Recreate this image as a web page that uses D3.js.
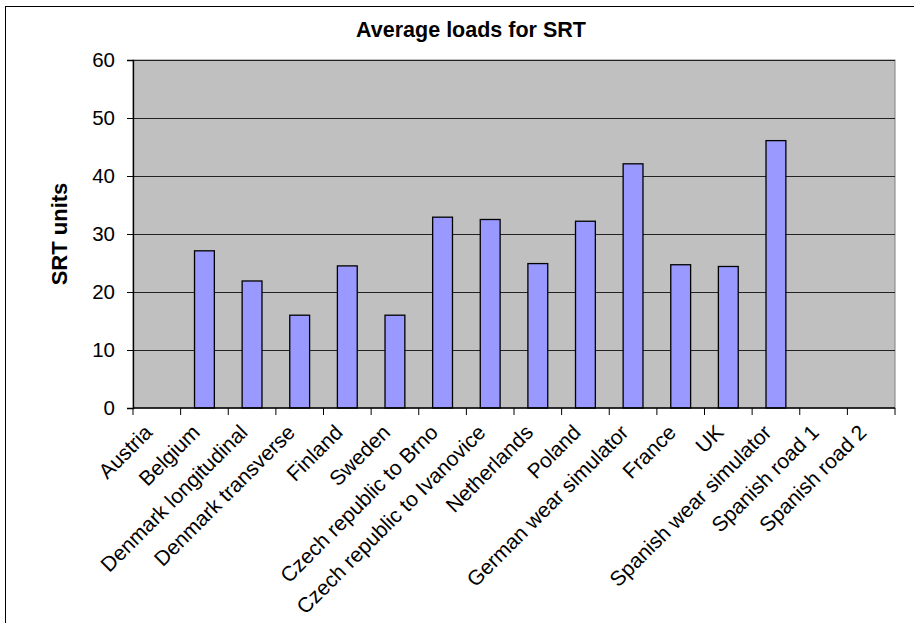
<!DOCTYPE html>
<html>
<head>
<meta charset="utf-8">
<script src="https://cdn.jsdelivr.net/npm/d3@7"></script>
<style>
  html, body { margin: 0; padding: 0; background: #fff; }
  svg { display: block; }
  text { font-family: "Liberation Sans", Arial, sans-serif; fill: #000; }
</style>
</head>
<body>
<svg id="chart" width="914" height="623"></svg>
<script>
// Test sites and their average SRT loads
const categories = [
  "Austria", "Belgium", "Denmark longitudinal", "Denmark transverse",
  "Finland", "Sweden", "Czech republic to Brno", "Czech republic to Ivanovice",
  "Netherlands", "Poland", "German wear simulator", "France", "UK",
  "Spanish wear simulator", "Spanish road 1", "Spanish road 2"
];
const srtValues = [
  null, 27.1, 21.9, 16.0, 24.5, 16.0, 32.9, 32.5,
  24.9, 32.2, 42.1, 24.7, 24.4, 46.1, null, null
];
const yTicks = [0, 10, 20, 30, 40, 50, 60];
const chartTitle = "Average loads for SRT";
const yAxisTitle = "SRT units";

const svg = d3.select("#chart");
const plot = { left: 133, right: 895, top: 60, bottom: 408 };

// outer chart frame (runs off the right and bottom edges)
svg.append("rect")
  .attr("x", 5.5).attr("y", 6.5)
  .attr("width", 940).attr("height", 660)
  .attr("fill", "#fff").attr("stroke", "#000").attr("stroke-width", 1);

const x = d3.scaleBand().domain(categories).range([plot.left, plot.right]).padding(0);
const y = d3.scaleLinear().domain([0, 60]).range([plot.bottom, plot.top]);

// plot area background
svg.append("rect")
  .attr("x", plot.left).attr("y", plot.top)
  .attr("width", plot.right - plot.left).attr("height", plot.bottom - plot.top)
  .attr("fill", "#C0C0C0").attr("stroke", "#808080").attr("stroke-width", 1);

// horizontal gridlines
svg.append("g").selectAll("line")
  .data(yTicks.filter(t => t > 0))
  .join("line")
  .attr("x1", plot.left).attr("x2", plot.right)
  .attr("y1", d => Math.round(y(d)) + 0.5).attr("y2", d => Math.round(y(d)) + 0.5)
  .attr("stroke", "#222").attr("stroke-width", 1);

// bars
const barW = x.bandwidth() / 2.4;
svg.append("g").selectAll("rect")
  .data(categories.map((c, i) => ({ c, v: srtValues[i] })).filter(d => d.v != null))
  .join("rect")
  .attr("x", d => x(d.c) + (x.bandwidth() - barW) / 2)
  .attr("y", d => y(d.v))
  .attr("width", barW)
  .attr("height", d => y(0) - y(d.v))
  .attr("fill", "#9999FF")
  .attr("stroke", "#000").attr("stroke-width", 1.3);

// y axis
const yAxis = svg.append("g")
  .attr("transform", `translate(${plot.left},0)`)
  .call(d3.axisLeft(y).tickValues(yTicks).tickSize(6).tickPadding(12).tickFormat(d3.format("d")));
yAxis.select(".domain").attr("stroke", "#000").attr("stroke-width", 1.3);
yAxis.selectAll(".tick line").attr("stroke", "#000");
yAxis.selectAll("text").style("font-size", "20.5px").attr("fill", "#000");

// x axis: ticks on category boundaries
const boundaries = categories.map(c => x(c)).concat([plot.right]);
const xg = svg.append("g");
xg.append("line")
  .attr("x1", plot.left).attr("x2", plot.right)
  .attr("y1", plot.bottom).attr("y2", plot.bottom)
  .attr("stroke", "#000").attr("stroke-width", 1.5);
xg.selectAll("line.tk")
  .data(boundaries)
  .join("line").attr("class", "tk")
  .attr("x1", d => d).attr("x2", d => d)
  .attr("y1", plot.bottom).attr("y2", plot.bottom + 7)
  .attr("stroke", "#000");

// rotated category labels
xg.selectAll("text")
  .data(categories)
  .join("text")
  .attr("transform", d => `translate(${x(d) + x.bandwidth() / 2 - 14},${plot.bottom + 15}) rotate(-45)`)
  .attr("text-anchor", "end")
  .attr("dy", "0.72em")
  .style("font-size", "21px")
  .text(d => d);

// title
svg.append("text")
  .attr("x", 471).attr("y", 37)
  .attr("text-anchor", "middle")
  .style("font-size", "21.5px").style("font-weight", "bold")
  .text(chartTitle);

// y axis title
svg.append("text")
  .attr("transform", `translate(67,${(plot.top + plot.bottom) / 2}) rotate(-90)`)
  .attr("text-anchor", "middle")
  .style("font-size", "22px").style("font-weight", "bold")
  .text(yAxisTitle);
</script>
</body>
</html>
